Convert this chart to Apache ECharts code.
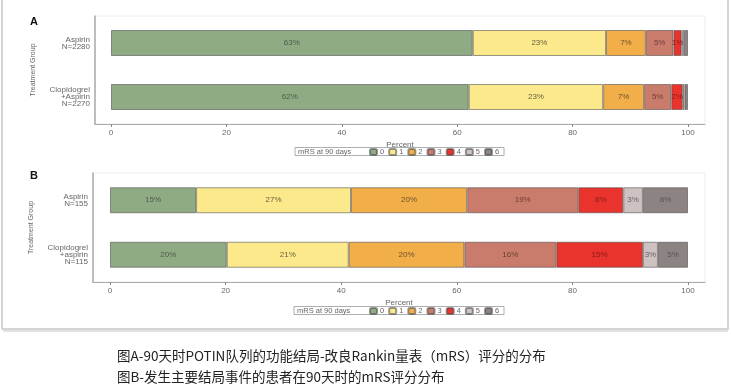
<!DOCTYPE html>
<html><head><meta charset="utf-8">
<script src="https://cdn.jsdelivr.net/npm/echarts@6/dist/echarts.min.js"></script>
<style>html,body{margin:0;padding:0;background:#fff}#c{width:731px;height:388px}</style>
</head><body><div id="c"></div>
<script>
const categoriesA = ['Aspirin\nN=2280', 'Clopidogrel\n+Aspirin\nN=2270'];
const categoriesB = ['Aspirin\nN=155', 'Clopidogrel\n+aspirin\nN=115'];
const levels = ['0', '1', '2', '3', '4', '5', '6'];
const aAspirin = [62.7, 23.1, 6.9, 4.8, 1.4, 0.4, 0.7];
const aClopidogrel = [62.0, 23.3, 7.1, 4.7, 2.0, 0.3, 0.6];
const bAspirin = [14.9, 26.8, 20.1, 19.2, 7.8, 3.4, 7.8];
const bClopidogrel = [20.2, 21.1, 20.0, 15.9, 15.0, 2.6, 5.2];
const tickValues = [0, 20, 40, 60, 80, 100];
const colors = ['#8fab84', '#fbe98c', '#f2ae48', '#c97c6c', '#e8342c', '#cdc1c1', '#8e8383'];
const labelColors = ['#4f5a4b', '#6a6340', '#6a5330', '#6b3c35', '#8b1a1a', '#666', '#555'];
const font = 'Liberation Sans, Arial, sans-serif';

const chart = echarts.init(document.getElementById('c'));
const series = [];
[[aAspirin, aClopidogrel, 0, 'A'], [bAspirin, bClopidogrel, 1, 'B']].forEach(([asp, clo, idx, stack]) => {
  levels.forEach((lv, k) => {
    series.push({
      name: lv, type: 'bar', stack: stack, xAxisIndex: idx, yAxisIndex: idx,
      barWidth: 26,
      data: [asp[k], clo[k]],
      itemStyle: { color: colors[k], borderColor: 'rgba(70,70,70,0.55)', borderWidth: 1 },
      label: {
        show: true, position: 'inside', fontSize: 8, fontFamily: font, color: labelColors[k],
        formatter: p => p.value >= 1 ? Math.round(p.value) + '%' : ''
      }
    });
  });
});

function xAx(idx, min, max) {
  return {
    gridIndex: idx, type: 'value', min: min, max: max,
    name: 'Percent', nameLocation: 'middle', nameGap: 17,
    nameTextStyle: { fontSize: 8, color: '#666', fontFamily: font },
    axisLine: { show: true, onZero: false, lineStyle: { color: '#aaa', width: 1.2 } },
    axisTick: { show: true, customValues: tickValues, length: 3, lineStyle: { color: '#888' } },
    axisLabel: { customValues: tickValues, fontSize: 8, color: '#666', margin: 5, fontFamily: font },
    splitLine: { show: false }
  };
}
function yAx(idx, cats) {
  return {
    gridIndex: idx, type: 'category', data: cats, inverse: true,
    name: 'Treatment Group', nameLocation: 'middle', nameRotate: 90, nameGap: 58,
    nameTextStyle: { fontSize: 7, color: '#666', fontFamily: font },
    axisLine: { show: true, onZero: false, lineStyle: { color: '#aaa', width: 1.5 } },
    axisTick: { show: false },
    axisLabel: { fontSize: 8, lineHeight: 7, color: '#666', margin: 5, align: 'right', fontFamily: font }
  };
}
function legendAt(top) {
  return {
    left: 369, top: top, data: levels, itemWidth: 7, itemHeight: 6, itemGap: 4,
    textStyle: { fontSize: 7.5, color: '#666', fontFamily: font, padding: [0, 0, 0, -2] },
    padding: 0, selectedMode: false
  };
}

chart.setOption({
  animation: false,
  backgroundColor: '#fff',
  grid: [
    { left: 95, right: 26, top: 16, height: 108, show: true, borderColor: '#ececec', borderWidth: 1 },
    { left: 93, right: 26, top: 173, height: 109, show: true, borderColor: '#ececec', borderWidth: 1 }
  ],
  xAxis: [xAx(0, -2.77, 102.95), xAx(1, -2.94, 102.94)],
  yAxis: [yAx(0, categoriesA), yAx(1, categoriesB)],
  legend: [legendAt(148), legendAt(307)],
  series: series,
  graphic: [
    { type: 'rect', shape: { x: 2, y: -2, width: 726, height: 331 }, style: { fill: 'none', stroke: '#c8c8c8', lineWidth: 1.5 }, silent: true, z: -1 },
    { type: 'line', shape: { x1: 3, y1: 331, x2: 728, y2: 331 }, style: { stroke: '#e2e2e2', lineWidth: 2 }, silent: true },
    { type: 'text', left: 30, top: 16, style: { text: 'A', font: 'bold 11px ' + font, fill: '#111' } },
    { type: 'text', left: 30, top: 170, style: { text: 'B', font: 'bold 11px ' + font, fill: '#111' } },
    { type: 'rect', shape: { x: 295, y: 147.5, width: 209, height: 8 }, style: { fill: 'none', stroke: '#999', lineWidth: 0.8 } },
    { type: 'text', left: 298, top: 148, style: { text: 'mRS at 90 days', font: '7.5px ' + font, fill: '#666' } },
    { type: 'rect', shape: { x: 294, y: 306.5, width: 210, height: 8 }, style: { fill: 'none', stroke: '#999', lineWidth: 0.8 } },
    { type: 'text', left: 297, top: 307, style: { text: 'mRS at 90 days', font: '7.5px ' + font, fill: '#666' } },
    { type: 'text', left: 117, top: 349, style: { text: '图A-90天时POTIN队列的功能结局-改良Rankin量表（mRS）评分的分布', font: '13.5px "Noto Sans CJK SC"', fill: '#222' } },
    { type: 'text', left: 117, top: 370, style: { text: '图B-发生主要结局事件的患者在90天时的mRS评分分布', font: '13.5px "Noto Sans CJK SC"', fill: '#222' } }
  ]
});
</script></body></html>
